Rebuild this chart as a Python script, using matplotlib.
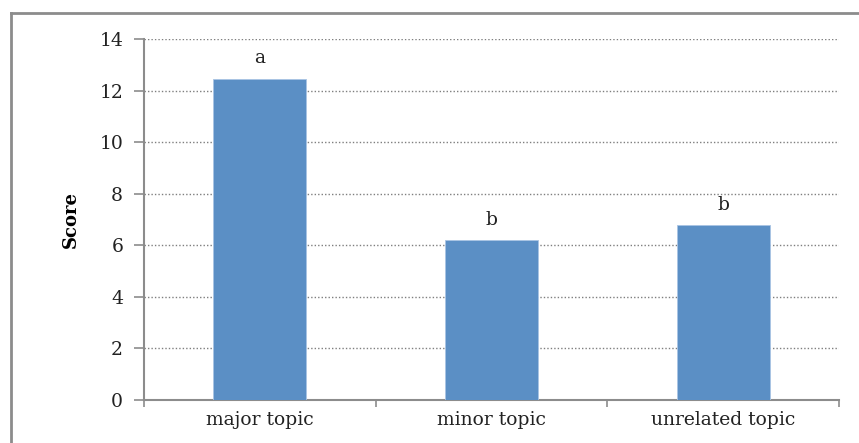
import matplotlib
matplotlib.use("Agg")
import matplotlib.pyplot as plt
from matplotlib.lines import Line2D
import numpy as np

categories = ["major topic", "minor topic", "unrelated topic"]
scores = [12.45, 6.2, 6.78]
letters = ["a", "b", "b"]

FONT = "DejaVu Serif"
GRAY = "#8c8c8c"
FS = 13.5

fig = plt.figure(figsize=(8.59, 4.43), dpi=100)
ax = fig.add_axes([144 / 859, 43 / 443, 695 / 859, 361 / 443])

x = np.arange(len(categories))
ax.bar(x, scores, width=0.4, color="#5b8fc5", edgecolor="#a9c4e4", linewidth=0.6, zorder=3)
for xi, s, lab in zip(x, scores, letters):
    ax.text(xi, s + 0.45, lab, ha="center", va="bottom", fontsize=FS, family=FONT, color="#222222")

ax.set_xlim(-0.5, len(categories) - 0.5)
ax.set_ylim(0, 14)
ax.set_yticks(np.arange(0, 15, 2))
ax.set_yticklabels([str(v) for v in range(0, 15, 2)], family=FONT, fontsize=FS)
ax.set_xticks(x)
ax.set_xticklabels(categories, family=FONT, fontsize=FS)
ax.set_xticks(np.arange(-0.5, len(categories)), minor=True)
ax.tick_params(axis="x", which="major", length=0, pad=8, colors="#222222")
ax.tick_params(axis="x", which="minor", length=5, direction="out", color=GRAY, width=1.2)
ax.tick_params(axis="y", length=7, direction="out", color=GRAY, width=1.2, pad=8, labelcolor="#222222")

for side in ("top", "right"):
    ax.spines[side].set_visible(False)
for side in ("left", "bottom"):
    ax.spines[side].set_color(GRAY)
    ax.spines[side].set_linewidth(1.5)

for v in range(2, 15, 2):
    ax.axhline(v, color="#7f7f7f", linestyle=(0, (1, 1.5)), linewidth=1.0, zorder=1)

ax.set_ylabel("Score", fontsize=13, fontweight="bold", family=FONT, labelpad=14)

# outer chart-area border (left and top only visible in crop)
fig.add_artist(Line2D([11 / 859, 11 / 859], [0, 1 - 13 / 443], transform=fig.transFigure, color=GRAY, lw=2))
fig.add_artist(Line2D([11 / 859, 1], [1 - 13 / 443, 1 - 13 / 443], transform=fig.transFigure, color=GRAY, lw=2))

fig.savefig("out.png", dpi=100)
